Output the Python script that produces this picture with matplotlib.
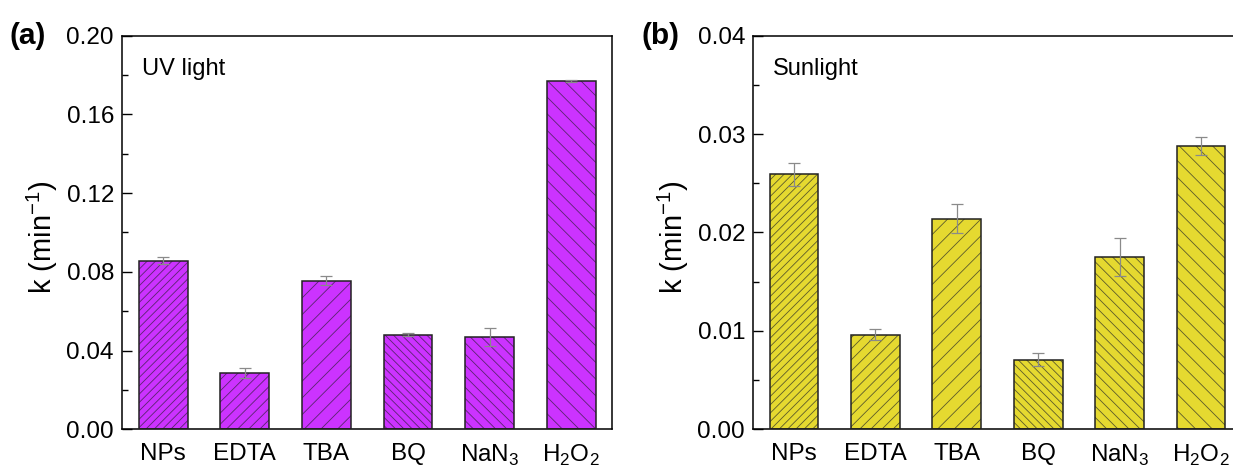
import matplotlib
matplotlib.use("Agg")
import matplotlib.pyplot as plt
from matplotlib.ticker import MultipleLocator, FormatStrFormatter

plt.rcParams['font.family'] = ['Liberation Sans', 'DejaVu Sans']
plt.rcParams['hatch.linewidth'] = 0.6
plt.rcParams['mathtext.fontset'] = 'custom'
plt.rcParams['mathtext.rm'] = 'Liberation Sans'

categories = ['NPs', 'EDTA', 'TBA', 'BQ', 'NaN$_3$', 'H$_2$O$_2$']
uv_k = [0.0857, 0.0285, 0.0756, 0.0481, 0.0470, 0.1771]
uv_err = [0.0017, 0.0025, 0.0025, 0.0008, 0.0047, 0.0006]
sun_k = [0.0259, 0.00963, 0.0214, 0.00709, 0.0175, 0.0288]
sun_err = [0.0012, 0.0006, 0.0015, 0.0007, 0.0019, 0.0009]
hatches = ['////', '///', '//', '\\\\\\\\', '\\\\\\', '\\\\']

fig = plt.figure(figsize=(12.33, 4.67), dpi=100)
ax_a = fig.add_axes([0.0992, 0.0807, 0.3972, 0.8429])
ax_b = fig.add_axes([0.6110, 0.0807, 0.3961, 0.8429])

def draw(ax, vals, errs, fill, hatchcol, ymax, major, minor, label, panel):
    x = list(range(1, len(vals) + 1))
    for xi, v, h in zip(x, vals, hatches):
        ax.bar(xi, v, width=0.6, color=fill, edgecolor=hatchcol, hatch=h, linewidth=0, zorder=2)
    ax.bar(x, vals, width=0.6, color='none', edgecolor='#222222', linewidth=1.1, zorder=3)
    ax.errorbar(x, vals, yerr=errs, fmt='none', ecolor='#8a8a8a', elinewidth=0.9,
                capsize=4, capthick=0.9, zorder=4)
    ax.set_xlim(0.5, 6.5)
    ax.set_ylim(0, ymax)
    ax.yaxis.set_major_locator(MultipleLocator(major))
    ax.yaxis.set_minor_locator(MultipleLocator(minor))
    ax.yaxis.set_major_formatter(FormatStrFormatter('%.2f'))
    ax.set_xticks(x)
    ax.set_xticklabels(categories, fontsize=17.5)
    ax.tick_params(axis='x', length=0, pad=10)
    ax.tick_params(axis='y', which='major', direction='in', length=7, width=1.0, labelsize=17.5, pad=6)
    ax.tick_params(axis='y', which='minor', direction='in', length=4, width=1.0)
    for s in ax.spines.values():
        s.set_linewidth(1.1)
    ax.set_ylabel('k (min$^{-1}$)', fontsize=21)
    ax.yaxis.set_label_coords(-0.127, 0.487)
    ax.text(0.04, 0.915, label, transform=ax.transAxes, fontsize=17, va='center', ha='left')
    ax.text(-0.23, 1.0, panel, transform=ax.transAxes, fontsize=21.5, fontweight='bold',
            va='center', ha='left')

draw(ax_a, uv_k, uv_err, '#CC33FF', '#5a2470', 0.20, 0.04, 0.02, 'UV light', '(a)')
draw(ax_b, sun_k, sun_err, '#E5D930', '#5c5a2a', 0.04, 0.01, 0.005, 'Sunlight', '(b)')

fig.savefig('out.png', dpi=100)
